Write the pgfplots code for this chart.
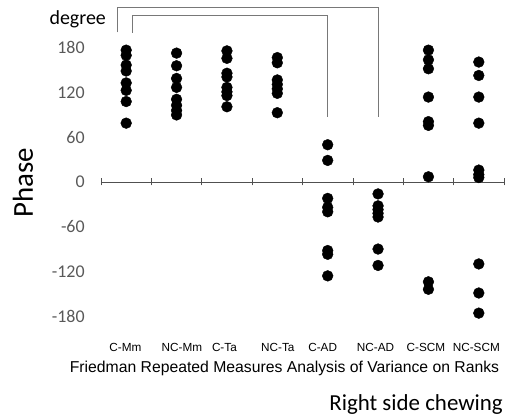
\documentclass[border=0pt]{standalone}
\usepackage{fontspec}
\setmainfont{Liberation Sans}
\newfontfamily\calibri{Carlito}
\usepackage{pgfplots}
\pgfplotsset{compat=1.18}
\definecolor{tickgray}{RGB}{89,89,89}
\definecolor{axgray}{RGB}{80,80,80}
\definecolor{brgray}{RGB}{120,120,120}
\begin{document}
\begin{tikzpicture}
\useasboundingbox (0,0) rectangle (509bp,419bp);
\begin{axis}[
  at={(101bp,88bp)}, anchor=south west,
  scale only axis, width=403bp, height=298bp,
  xmin=0.5, xmax=8.5, ymin=-200, ymax=200,
  axis x line*=middle, axis y line*=left,
  x axis line style={-, draw=axgray, line width=0.7bp},
  y axis line style={draw=none},
  ytick={-180,-120,-60,0,60,120,180},
  ytick style={draw=none},
  yticklabel style={font=\calibri\fontsize{18}{18}\selectfont, text=tickgray, anchor=east, inner xsep=0pt, xshift=-14bp},
  /pgf/number format/assume math mode=true,
  xtick={0.986,2.107,2.95,4.01,4.9,5.95,6.95,7.95},
  xticklabels={C-Mm,NC-Mm,C-Ta,NC-Ta,C-AD,NC-AD,C-SCM,NC-SCM},
  xticklabel style={font=\fontsize{11.8}{12}\selectfont, anchor=base, yshift=-167bp},
  major x tick style={draw=none},
  minor xtick={0.5,1.5,...,8.5},
  minor x tick style={draw=axgray, line width=0.7bp},
  tick align=center,
  minor tick length=7bp,
  ylabel={Phase},
  ylabel style={at={(axis description cs:-0.1935,0.4966)}, anchor=center, font=\calibri\fontsize{29}{29}\selectfont},
  clip=false,
]
\addplot[only marks, mark=*, mark size=5.4bp, black] coordinates {(1,177) (1,170) (1,157) (1,149) (1,133) (1,123) (1,108) (1,79)};
\addplot[only marks, mark=*, mark size=5.4bp, black] coordinates {(2,173) (2,156) (2,139) (2,127) (2,111) (2,103) (2,96) (2,90)};
\addplot[only marks, mark=*, mark size=5.4bp, black] coordinates {(3,176) (3,166) (3,146) (3,141) (3,127) (3,121) (3,116) (3,101)};
\addplot[only marks, mark=*, mark size=5.4bp, black] coordinates {(4,167) (4,160) (4,137) (4,131) (4,125) (4,119) (4,93)};
\addplot[only marks, mark=*, mark size=5.4bp, black] coordinates {(5,50) (5,29) (5,-22) (5,-34) (5,-40) (5,-92) (5,-97) (5,-126)};
\addplot[only marks, mark=*, mark size=5.4bp, black] coordinates {(6,-16) (6,-32) (6,-37) (6,-42) (6,-47) (6,-90) (6,-112)};
\addplot[only marks, mark=*, mark size=5.4bp, black] coordinates {(7,177) (7,164) (7,152) (7,114) (7,81) (7,76) (7,7) (7,-134) (7,-144)};
\addplot[only marks, mark=*, mark size=5.4bp, black] coordinates {(8,161) (8,143) (8,114) (8,79) (8,16) (8,10) (8,6) (8,-110) (8,-149) (8,-176)};
\draw[brgray, line width=0.8bp] (axis cs:0.817,201) |- (axis cs:6.0,235) -- (axis cs:6.0,87);
\draw[brgray, line width=0.8bp] (axis cs:1.115,200) |- (axis cs:5.0,223) -- (axis cs:5.0,87);
\end{axis}
\node[anchor=base, font=\calibri\fontsize{20}{20}\selectfont] at (77.7bp,394bp) {degree};
\node[anchor=base, font=\fontsize{15.8}{16}\selectfont] at (284.5bp,46bp) {Friedman Repeated Measures Analysis of Variance on Ranks};
\node[anchor=base east, inner sep=0pt, font=\calibri\fontsize{23}{23}\selectfont] at (503bp,9bp) {Right side chewing};
\end{tikzpicture}
\end{document}
